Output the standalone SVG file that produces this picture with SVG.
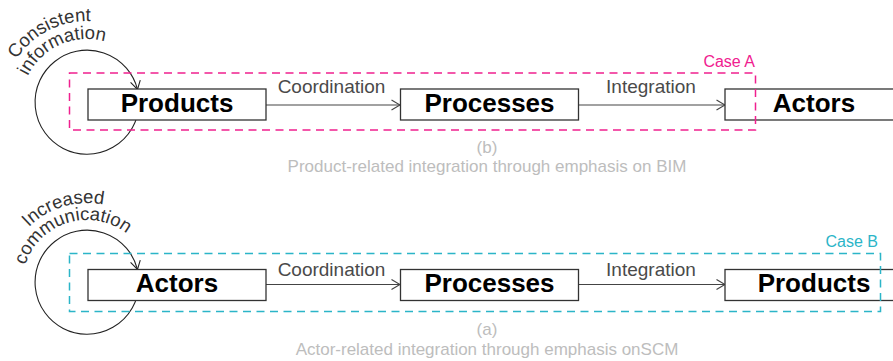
<svg xmlns="http://www.w3.org/2000/svg" width="893" height="361" viewBox="0 0 893 361">
<style>
.box{fill:#fff;stroke:#333;stroke-width:1.3}
.lbl{font-family:"Liberation Sans",Arial,sans-serif;font-weight:bold;font-size:26px;fill:#000;text-anchor:middle}
.edge{fill:none;stroke:#444;stroke-width:1.2}
.elbl{font-family:"Liberation Sans",Arial,sans-serif;font-size:19px;fill:#4a4a4a;text-anchor:middle}
.loop{fill:none;stroke:#222;stroke-width:1.1}
.ltxt{font-family:"Liberation Sans",Arial,sans-serif;font-size:18.5px;fill:#333}
.cap{font-family:"Liberation Sans",Arial,sans-serif;font-size:17px;fill:#bdbdbd;text-anchor:middle}
.caseA{fill:none;stroke:#f0208f;stroke-width:1.5;stroke-dasharray:8 5.5}
.caseB{fill:none;stroke:#2bb5c8;stroke-width:1.5;stroke-dasharray:8 5.5}
.ctA{font-family:"Liberation Sans",Arial,sans-serif;font-size:16px;fill:#f0208f;text-anchor:end}
.ctB{font-family:"Liberation Sans",Arial,sans-serif;font-size:16px;fill:#2bb5c8;text-anchor:end}
</style>
<defs>
<marker id="arr" viewBox="0 0 10 12" refX="9.5" refY="6" markerWidth="10" markerHeight="12" markerUnits="userSpaceOnUse" orient="auto">
<path d="M1,1 L9.5,6 L1,11" fill="none" stroke="#444" stroke-width="1.2"/>
</marker>
<marker id="arr2" viewBox="0 0 10 12" refX="9.5" refY="6" markerWidth="10" markerHeight="12" markerUnits="userSpaceOnUse" orient="auto">
<path d="M1,1 L9.5,6 L1,11" fill="none" stroke="#222" stroke-width="1.1"/>
</marker>
<path id="tA1" d="M3,105 A84,84 0 0 1 171,105"/>
<path id="tA2" d="M21,105 A66,66 0 0 1 153,105"/>
<path id="tB1" d="M5,285 A82,82 0 0 1 169,285"/>
<path id="tB2" d="M22,285 A65,65 0 0 1 152,285"/>
</defs>

<g id="connectors">
<path class="loop" d="M139,105 A52,52 0 1 1 137.5,89.5" marker-end="url(#arr2)"/>
<path class="loop" d="M139,285 A52,52 0 1 1 137.5,269.5" marker-end="url(#arr2)"/>
<line class="edge" x1="266" y1="105" x2="400" y2="105" marker-end="url(#arr)"/>
<line class="edge" x1="578" y1="105" x2="725" y2="105" marker-end="url(#arr)"/>
<line class="edge" x1="266" y1="284.5" x2="400" y2="284.5" marker-end="url(#arr)"/>
<line class="edge" x1="578" y1="284.5" x2="725" y2="284.5" marker-end="url(#arr)"/>
<text class="elbl" x="331.5" y="92.5">Coordination</text>
<text class="elbl" x="651" y="92.5">Integration</text>
<text class="elbl" x="331.5" y="275.5">Coordination</text>
<text class="elbl" x="651" y="275.5">Integration</text>
<text class="ltxt"><textPath href="#tA1" startOffset="48">Consistent</textPath></text>
<text class="ltxt"><textPath href="#tA2" startOffset="30">information</textPath></text>
<text class="ltxt"><textPath href="#tB1" startOffset="64">Increased</textPath></text>
<text class="ltxt"><textPath href="#tB2" startOffset="20">communication</textPath></text>
</g>

<g id="top-products"><rect class="box" x="88" y="89" width="178" height="31"/><text class="lbl" x="177" y="112">Products</text></g>
<g id="top-processes"><rect class="box" x="400.5" y="89" width="178" height="31"/><text class="lbl" x="489.5" y="112">Processes</text></g>
<g id="top-actors"><rect class="box" x="725" y="89" width="178" height="31"/><text class="lbl" x="814" y="112">Actors</text></g>

<g id="bot-actors"><rect class="box" x="88" y="269.5" width="178" height="31"/><text class="lbl" x="177" y="292">Actors</text></g>
<g id="bot-processes"><rect class="box" x="400.5" y="269.5" width="178" height="31"/><text class="lbl" x="489.5" y="292">Processes</text></g>
<g id="bot-products"><rect class="box" x="725" y="269.5" width="178" height="31"/><text class="lbl" x="814" y="292">Products</text></g>

<g id="caseA"><rect class="caseA" x="69.5" y="73" width="686" height="57"/><text class="ctA" x="755" y="67">Case A</text></g>
<g id="caseB"><rect class="caseB" x="69.5" y="253.5" width="811" height="58"/><text class="ctB" x="878" y="247">Case B</text></g>

<g id="captions">
<text class="cap" x="487" y="153">(b)</text>
<text class="cap" x="487" y="172">Product-related integration through emphasis on BIM</text>
<text class="cap" x="487" y="335">(a)</text>
<text class="cap" x="487" y="355">Actor-related integration through emphasis onSCM</text>
</g>
</svg>
